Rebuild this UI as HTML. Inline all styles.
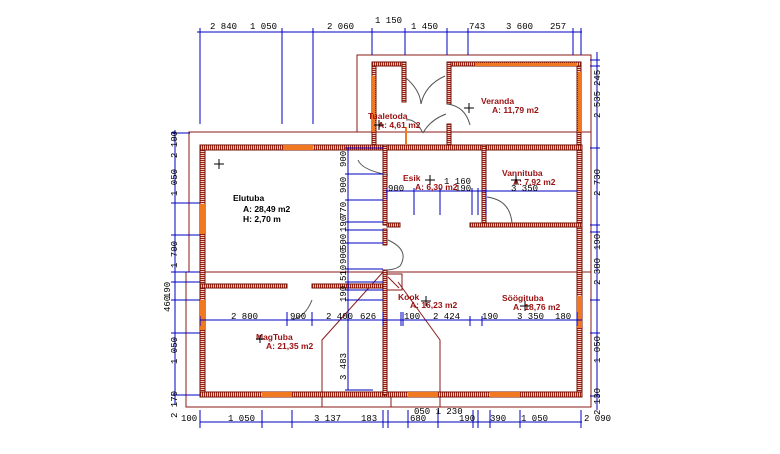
<!DOCTYPE html>
<html><head><meta charset="utf-8"><style>
html,body{margin:0;padding:0;background:#fff;width:780px;height:454px;overflow:hidden}
svg{display:block}
.d{font-family:"Liberation Mono",monospace;font-size:9px;fill:#000}
.l{font-family:"Liberation Sans",sans-serif;font-size:8.5px;font-weight:bold;fill:#9a1010}
.k{font-family:"Liberation Sans",sans-serif;font-size:8.5px;font-weight:bold;fill:#000}
</style></head><body>
<svg width="780" height="454" viewBox="0 0 780 454" xmlns="http://www.w3.org/2000/svg">
<defs>
<pattern id="hv" width="4" height="2" patternUnits="userSpaceOnUse"><rect width="4" height="2" fill="#f4d0c8"/><rect width="4" height="1" fill="#a02010"/></pattern>
<pattern id="hh" width="2" height="4" patternUnits="userSpaceOnUse"><rect width="2" height="4" fill="#f4d0c8"/><rect width="1" height="4" fill="#a02010"/></pattern>
</defs>
<g fill="none" stroke="#8b1a1a" stroke-width="1">
<path d="M357 132 V55 H591 V132"/>
<path d="M189 272 V132 H591 V407 H186 V272 Z"/>
<line x1="186" y1="272" x2="591" y2="272"/>
<path d="M383 272 L322 340 V407"/>
<path d="M398 282 L440 340 V407"/>
<line x1="391" y1="394" x2="391" y2="407"/>
<rect x="385" y="274" width="17" height="16"/>
<line x1="388" y1="277" x2="399" y2="288"/>
</g>
<g stroke="#6b1008" stroke-width="1">
<rect x="200" y="145" width="5" height="252" fill="url(#hv)"/>
<rect x="577" y="145" width="5" height="252" fill="url(#hv)"/>
<rect x="200" y="145" width="382" height="5" fill="url(#hh)"/>
<rect x="200" y="392" width="382" height="5" fill="url(#hh)"/>
<rect x="383" y="145" width="4" height="80" fill="url(#hv)"/>
<rect x="383" y="229" width="4" height="16" fill="url(#hv)"/>
<rect x="383" y="270" width="4" height="125" fill="url(#hv)"/>
<rect x="482" y="145" width="4" height="80" fill="url(#hv)"/>
<rect x="387" y="223" width="13" height="4" fill="url(#hh)"/>
<rect x="470" y="223" width="112" height="4" fill="url(#hh)"/>
<rect x="200" y="284" width="87" height="4" fill="url(#hh)"/>
<rect x="312" y="284" width="71" height="4" fill="url(#hh)"/>
<rect x="372" y="62" width="4" height="83" fill="url(#hv)"/>
<rect x="577" y="62" width="4" height="83" fill="url(#hv)"/>
<rect x="372" y="62" width="33" height="4" fill="url(#hh)"/>
<rect x="447" y="62" width="134" height="4" fill="url(#hh)"/>
<rect x="402" y="62" width="4" height="40" fill="url(#hv)"/>
<rect x="447" y="62" width="4" height="42" fill="url(#hv)"/>
<rect x="447" y="124" width="4" height="21" fill="url(#hv)"/>
</g>
<g fill="#f07820">
<rect x="283" y="145" width="30" height="5"/>
<rect x="200" y="204" width="5" height="30"/>
<rect x="200" y="300" width="5" height="30"/>
<rect x="262" y="392" width="30" height="5"/>
<rect x="408" y="392" width="30" height="5"/>
<rect x="490" y="392" width="30" height="5"/>
<rect x="577" y="296" width="5" height="32"/>
<rect x="578" y="72" width="4" height="60"/>
<rect x="475" y="63" width="102" height="3"/>
<rect x="372" y="76" width="3" height="56"/>
<rect x="405" y="127" width="2" height="18"/>
</g>
<g fill="none" stroke="#555" stroke-width="1">
<path d="M406 78 Q420 90 421 104 Q425 85 445 76"/>
<path d="M447 104 Q465 106 470 125"/>
<path d="M423 133 Q430 120 446 114"/>
<path d="M423 133 Q415 118 406 120"/>
<path d="M388 175 Q362 170 358 160"/>
<path d="M388 240 Q410 250 400 266 Q395 270 385 270"/>
<path d="M487 197 Q510 200 512 223"/>
<path d="M312 300 Q305 318 290 320"/>
</g>
<g stroke="#0000c0" stroke-width="1" fill="none">
<line x1="197" y1="32" x2="582" y2="32"/>
<path d="M200 28V124 M282 28V124 M313 28V124 M372 28V55 M405 28V55 M447 28V55 M468 28V55 M573 28V55 M581 28V55"/>
<line x1="175" y1="130" x2="175" y2="405"/>
<path d="M171 133H190 M171 203H200 M171 235H200 M171 272H200 M171 282H200 M171 300H200 M171 333H200 M171 395H200"/>
<line x1="597" y1="52" x2="597" y2="410"/>
<path d="M590 60H600 M590 66H600 M590 148H600 M590 225H600 M590 232H600 M590 300H600 M590 333H600 M590 396H600"/>
<line x1="348" y1="148" x2="348" y2="390"/>
<path d="M345 148H383 M345 174H383 M345 200H383 M345 222H383 M345 230H383 M345 243H383 M345 269H383 M345 282H383 M345 290H383 M345 300H383 M345 390H373"/>
<line x1="200" y1="320" x2="582" y2="320"/>
<path d="M200 316V326 M287 312V326 M312 312V326 M383 312V326 M401 312V326 M403 312V326 M470 316V326 M482 316V326 M577 312V326"/>
<line x1="386" y1="191" x2="577" y2="191"/>
<path d="M387 188V200 M414 188V215 M440 188V215 M472 188V215 M478 188V215 M486 188V215"/>
<line x1="200" y1="422" x2="582" y2="422"/>
<path d="M200 410V428 M262 410V428 M292 410V428 M383 410V428 M388 410V428 M408 410V428 M438 410V428 M473 410V428 M478 410V428 M490 410V428 M520 410V428 M581 410V428"/>
</g>
<g class="d">
<text x="210" y="29">2 840</text><text x="250" y="29">1 050</text>
<text x="327" y="29">2 060</text><text x="375" y="23">1 150</text>
<text x="411" y="29">1 450</text><text x="469" y="29">743</text>
<text x="506" y="29">3 600</text><text x="550" y="29">257</text>
<text x="231" y="319">2 800</text><text x="290" y="319">900</text>
<text x="326" y="319">2 400</text><text x="360" y="319">626</text>
<text x="404" y="319">100</text><text x="433" y="319">2 424</text>
<text x="482" y="319">190</text><text x="517" y="319">3 350</text>
<text x="555" y="319">180</text>
<text x="388" y="191">900</text>
<text x="444" y="184">1 160</text><text x="455" y="191">190</text>
<text x="511" y="191">3 350</text>
<text x="181" y="421">100</text><text x="228" y="421">1 050</text>
<text x="314" y="421">3 137</text><text x="361" y="421">183</text>
<text x="410" y="421">680</text><text x="459" y="421">190</text>
<text x="490" y="421">390</text><text x="521" y="421">1 050</text>
<text x="414" y="414">050 1 230</text>
<text x="584" y="421">2 090</text>
</g>
<g class="d">
<text transform="translate(177,158) rotate(-90)">2 100</text>
<text transform="translate(177,196) rotate(-90)">1 050</text>
<text transform="translate(177,268) rotate(-90)">1 700</text>
<text transform="translate(170,298) rotate(-90)">190</text>
<text transform="translate(170,312) rotate(-90)">460</text>
<text transform="translate(177,364) rotate(-90)">1 050</text>
<text transform="translate(177,418) rotate(-90)">2 170</text>
<text transform="translate(600,86) rotate(-90)">245</text>
<text transform="translate(600,118) rotate(-90)">2 535</text>
<text transform="translate(600,196) rotate(-90)">2 730</text>
<text transform="translate(600,250) rotate(-90)">190</text>
<text transform="translate(600,285) rotate(-90)">2 380</text>
<text transform="translate(600,363) rotate(-90)">1 050</text>
<text transform="translate(600,415) rotate(-90)">2 130</text>
<text transform="translate(346,167) rotate(-90)">900</text>
<text transform="translate(346,193) rotate(-90)">900</text>
<text transform="translate(346,218) rotate(-90)">770</text>
<text transform="translate(346,232) rotate(-90)">190</text>
<text transform="translate(346,250) rotate(-90)">500</text>
<text transform="translate(346,264) rotate(-90)">900</text>
<text transform="translate(346,281) rotate(-90)">510</text>
<text transform="translate(346,302) rotate(-90)">190</text>
<text transform="translate(346,380) rotate(-90)">3 483</text>
</g>
<text class="l" x="481" y="104">Veranda</text><text class="l" x="492" y="113">A: 11,79 m2</text>
<text class="l" x="368" y="119">Tualetoda</text><text class="l" x="378" y="128">A: 4,61 m2</text>
<text class="l" x="403" y="181">Esik</text><text class="l" x="415" y="190">A: 6,30 m2</text>
<text class="l" x="502" y="176">Vannituba</text><text class="l" x="513" y="185">A: 7,92 m2</text>
<text class="k" x="233" y="201">Elutuba</text><text class="k" x="243" y="212">A: 28,49 m2</text><text class="k" x="243" y="222">H: 2,70 m</text>
<text class="l" x="398" y="300">Kook</text><text class="l" x="410" y="308">A: 16,23 m2</text>
<text class="l" x="502" y="301">Söögituba</text><text class="l" x="513" y="310">A: 18,76 m2</text>
<text class="l" x="256" y="340">MagTuba</text><text class="l" x="266" y="349">A: 21,35 m2</text>
<g stroke="#000" stroke-width="1">
<path d="M214 164h10M219 159v10 M425 180h10M430 175v10 M511 180h10M516 175v10 M421 301h10M426 296v10 M464 108h10M469 103v10 M374 125h10M379 120v10 M520 306h10M525 301v10 M256 339h8M260 335v8"/>
</g>
</svg>
</body></html>
